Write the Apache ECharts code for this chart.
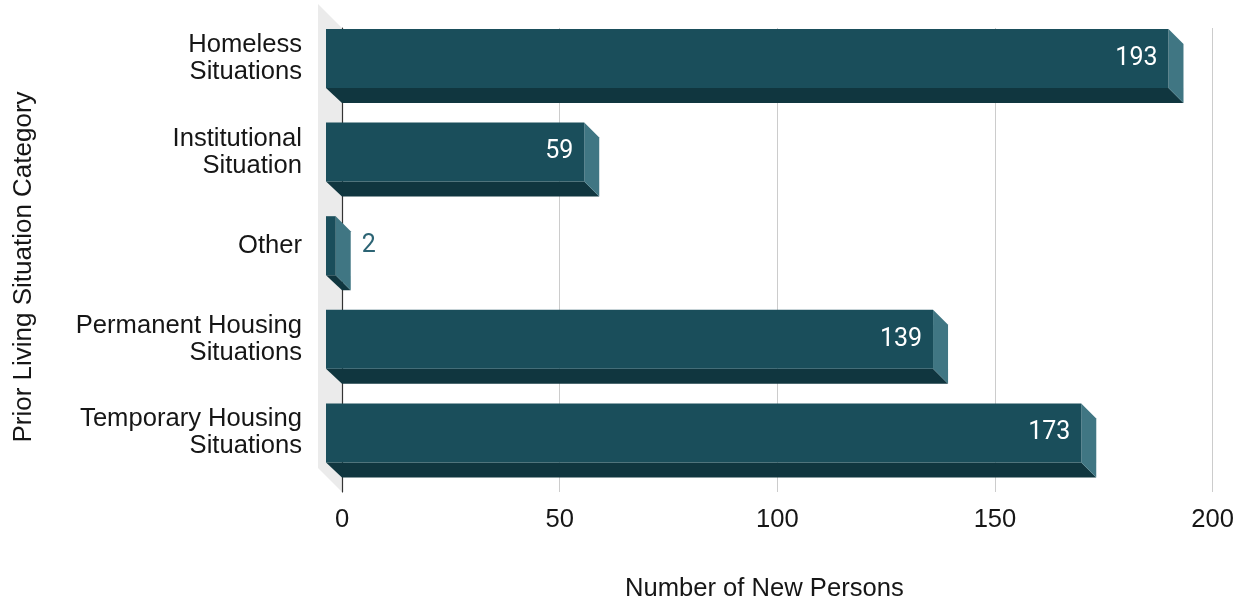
<!DOCTYPE html>
<html>
<head>
<meta charset="utf-8">
<script src="https://cdn.jsdelivr.net/npm/echarts@6/dist/echarts.min.js"></script>
<style>
  html, body { margin: 0; padding: 0; background: #ffffff; }
  #chart { width: 1237px; height: 607px; }
</style>
</head>
<body>
<div id="chart"></div>
<script>
// Prior living situation of new persons
const categories = [
  'Homeless\nSituations',
  'Institutional\nSituation',
  'Other',
  'Permanent Housing\nSituations',
  'Temporary Housing\nSituations'
];
const newPersons = [193, 59, 2, 139, 173];
const xTicks = { min: 0, max: 200, interval: 50 };

const FRONT = '#1a4e5b';
const SIDE = '#407683';
const BOTTOM = '#10363f';
const OUT_LABEL = '#2c6474';
const TEXT = '#161616';
const DEPTH = 15;      // 3D depth offset (px)
const BAR_H = 59;      // front face height (px)
const FS = 25.6;       // axis text size

const chart = echarts.init(document.getElementById('chart'), null, { renderer: 'canvas' });

const measure = (() => {
  const c = document.createElement('canvas').getContext('2d');
  return (t, font) => { c.font = font; return c.measureText(t).width; };
})();
const LABEL_FONT = '25px Roboto';

function renderBar(params, api) {
  const idx = api.value(1);
  const v = api.value(0);
  const p0 = api.coord([0, idx]);
  const pv = api.coord([v, idx]);
  const x0 = p0[0], xv = pv[0], yc = p0[1];
  const top = yc - BAR_H / 2, bot = yc + BAR_H / 2;
  const fx0 = x0 - DEPTH - 1, fx1 = xv - DEPTH;
  const children = [
    { type: 'polygon', shape: { points: [[fx0, bot], [fx1, bot], [xv, bot + DEPTH], [x0, bot + DEPTH]] },
      style: { fill: BOTTOM } },
    { type: 'polygon', shape: { points: [[fx1, top], [xv, top + DEPTH], [xv, bot + DEPTH], [fx1, bot]] },
      style: { fill: SIDE } },
    { type: 'rect', shape: { x: fx0, y: top, width: fx1 - fx0, height: BAR_H },
      style: { fill: FRONT } }
  ];
  const txt = String(v);
  const tw = measure(txt, LABEL_FONT);
  if (fx1 - fx0 > tw + 24) {
    children.push({ type: 'text', style: { text: txt, x: fx1 - 11, y: yc, align: 'right', verticalAlign: 'middle',
      fill: '#ffffff', font: LABEL_FONT } });
  } else {
    children.push({ type: 'text', style: { text: txt, x: xv + 11, y: yc, align: 'left', verticalAlign: 'middle',
      fill: OUT_LABEL, font: LABEL_FONT } });
  }
  return { type: 'group', children };
}

function renderWall(params, api) {
  const cs = params.coordSys;
  const w = 24;
  return {
    type: 'polygon',
    shape: { points: [[cs.x - w, cs.y - w], [cs.x, cs.y], [cs.x, cs.y + cs.height], [cs.x - w, cs.y + cs.height - w]] },
    style: { fill: '#ebebeb' }
  };
}

const option = {
  backgroundColor: '#ffffff',
  animation: false,
  textStyle: { fontFamily: 'Liberation Sans, Arial, sans-serif' },
  grid: [
    { left: 342, right: 23, top: 28, bottom: 104 },
    { left: 342, right: 23, top: 11.7, height: 468 }
  ],
  xAxis: [
    {
      gridIndex: 0, type: 'value', min: xTicks.min, max: xTicks.max, interval: xTicks.interval,
      axisLine: { show: false }, axisTick: { show: false },
      splitLine: { lineStyle: { color: '#cccccc', width: 1 } },
      axisLabel: { fontSize: FS, color: TEXT, margin: 15 },
      name: 'Number of New Persons', nameLocation: 'middle', nameGap: 84,
      nameTextStyle: { fontSize: FS, color: TEXT, padding: [0, 26, 0, 0] }
    },
    { gridIndex: 1, type: 'value', min: xTicks.min, max: xTicks.max, show: false }
  ],
  yAxis: [
    {
      gridIndex: 0, type: 'value', min: 0, max: 1,
      axisLine: { show: true, lineStyle: { color: '#333333', width: 1.2 } },
      axisTick: { show: false }, axisLabel: { show: false }, splitLine: { show: false },
      name: 'Prior Living Situation Category', nameLocation: 'middle', nameRotate: 90, nameGap: 305,
      nameTextStyle: { fontSize: 26, color: TEXT, padding: [0, 14, 0, 0] }
    },
    {
      gridIndex: 1, type: 'category', data: categories, inverse: true,
      axisLine: { show: false }, axisTick: { show: false },
      axisLabel: { fontSize: FS, color: TEXT, margin: 40, lineHeight: 27, align: 'right' }
    }
  ],
  series: [
    { type: 'custom', xAxisIndex: 0, yAxisIndex: 0, z: -1, data: [[0, 0]], renderItem: renderWall, silent: true },
    {
      type: 'custom', xAxisIndex: 1, yAxisIndex: 1, z: 3,
      data: newPersons.map((v, i) => [v, i]),
      encode: { x: 0, y: 1 },
      renderItem: renderBar
    }
  ]
};

chart.setOption(option);
</script>
</body>
</html>
